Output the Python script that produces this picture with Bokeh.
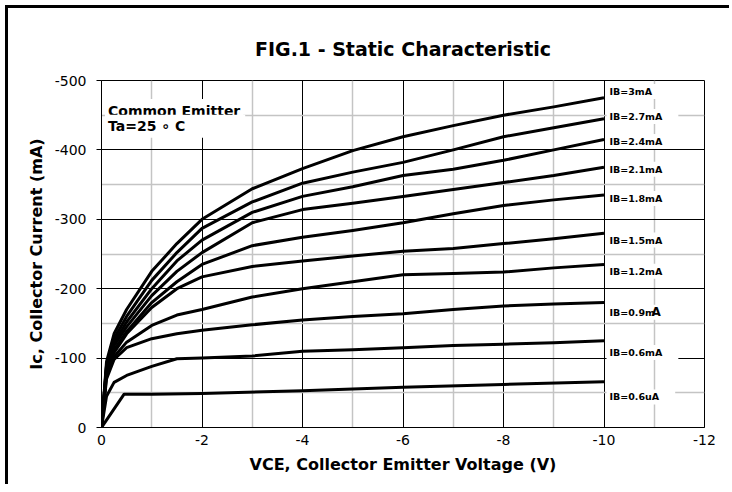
from bokeh.plotting import figure
from bokeh.models import Range1d, FixedTicker, Label, Spacer
from bokeh.layouts import column, row
from bokeh.embed import file_html
from bokeh.resources import INLINE

# ---- data ----
vce = [0, -0.1, -0.25, -0.5, -1, -1.5, -2, -3, -4, -5, -6, -7, -8, -9, -10]
ic_3_0 = [0, -95, -135, -170, -225, -265, -300, -344, -373, -399, -419, -435, -450, -462, -475]
ic_2_7 = [0, -90, -128, -160, -212, -252, -287, -325, -352, -368, -382, -400, -419, -432, -445]
ic_2_4 = [0, -88, -122, -152, -200, -240, -270, -310, -333, -347, -363, -372, -385, -400, -415]
ic_2_1 = [0, -85, -118, -145, -190, -225, -252, -295, -314, -323, -333, -343, -353, -363, -375]
ic_1_8 = [0, -82, -112, -138, -180, -210, -235, -262, -274, -284, -295, -308, -320, -328, -335]
ic_1_5 = [0, -80, -108, -135, -173, -200, -217, -232, -240, -247, -254, -258, -265, -272, -280]
ic_1_2 = [0, -75, -102, -123, -147, -162, -170, -188, -200, -210, -220, -222, -224, -230, -235]
ic_0_9 = [0, -70, -98, -115, -128, -135, -140, -148, -155, -160, -164, -170, -175, -178, -180]
ic_0_6 = [0, -45, -65, -75, -88, -99, -100, -103, -110, -112, -115, -118, -120, -122, -125]
vce_low = [0, -0.45, -1, -2, -4, -6, -8, -10]
ic_0_6u = [0, -48, -48, -49, -53, -58, -62, -66]

series_labels = ["IB=3mA", "IB=2.7mA", "IB=2.4mA", "IB=2.1mA", "IB=1.8mA",
                 "IB=1.5mA", "IB=1.2mA", "IB=0.9m", "IB=0.6mA", "IB=0.6uA"]
label_y = [-484, -448, -412, -372, -330, -270, -225, -166, -108, -44]

x_ticks = [0, -2, -4, -6, -8, -10, -12]
x_minor = [-1, -3, -5, -7, -9, -11]
y_ticks = [0, -100, -200, -300, -400, -500]
y_minor = [-50, -150, -250, -350, -450]

FONT = "DejaVu Sans"

p = figure(width=716, height=470, output_backend="svg", toolbar_location=None,
           x_range=Range1d(0, -12), y_range=Range1d(0, -500),
           min_border_left=93, min_border_right=20, min_border_top=72, min_border_bottom=51)
p.background_fill_color = "white"
p.border_fill_color = "white"
p.outline_line_color = "black"
p.outline_line_width = 1

p.title.text = "FIG.1 - Static Characteristic"
p.title.align = "center"
p.title.text_font = FONT
p.title.text_font_size = "19px"
p.title.text_font_style = "bold"
p.title.text_color = "black"
p.title.standoff = 42

# axes
p.xaxis.ticker = FixedTicker(ticks=x_ticks)
p.yaxis.ticker = FixedTicker(ticks=y_ticks)
p.xaxis.major_label_overrides = {t: ("%d" % t) for t in x_ticks}
p.yaxis.major_label_overrides = {t: ("%d" % t) for t in y_ticks}
for ax in p.axis:
    ax.axis_line_color = "black"
    ax.major_label_text_font = FONT
    ax.major_label_text_font_size = "14px"
    ax.major_label_text_color = "black"
    ax.minor_tick_line_color = None
    ax.major_tick_in = 0
p.xaxis.major_tick_out = 0
p.xaxis.major_label_standoff = 7
p.yaxis.major_tick_out = 5
p.yaxis.major_tick_line_color = "black"
p.yaxis.major_label_standoff = 10
p.yaxis.axis_label = "Ic, Collector Current (mA)"
p.xaxis.axis_label = "VCE, Collector Emitter Voltage (V)"
for ax in p.axis:
    ax.axis_label_text_font = FONT
    ax.axis_label_text_font_size = "16px"
    ax.axis_label_text_font_style = "bold"
    ax.axis_label_text_color = "black"
p.yaxis.axis_label_standoff = 6
p.xaxis.axis_label_standoff = 7

# grids
p.xgrid.ticker = FixedTicker(ticks=[-2, -4, -6, -8, -10], minor_ticks=x_minor)
p.ygrid.ticker = FixedTicker(ticks=[-100, -200, -300, -400], minor_ticks=y_minor)
for g in (p.xgrid, p.ygrid):
    g.grid_line_color = "black"
    g.grid_line_width = 1
    g.minor_grid_line_color = "#c4c4c4"
    g.minor_grid_line_width = 1.5

# curves
for ys in [ic_3_0, ic_2_7, ic_2_4, ic_2_1, ic_1_8, ic_1_5, ic_1_2, ic_0_9, ic_0_6]:
    p.line(vce, ys, line_color="black", line_width=3, line_join="round")
p.line(vce_low, ic_0_6u, line_color="black", line_width=3, line_join="round")

# series labels with white boxes
for txt, yv in zip(series_labels, label_y):
    p.add_layout(Label(x=-10.05, y=yv, text=txt, text_font=FONT, text_font_size="9.5px",
                       text_font_style="bold", text_color="black",
                       text_baseline="middle", text_align="left",
                       background_fill_color="white", background_fill_alpha=1.0,
                       padding=dict(left=3, right=16, top=2, bottom=2)))
p.add_layout(Label(x=-10.05, y=-166, x_offset=45, text="A", text_font=FONT,
                   text_font_size="12px", text_font_style="bold", text_color="black",
                   text_baseline="middle", text_align="left"))

# annotation box
p.add_layout(Label(x=-0.07, y=-456, text="Common Emitter", text_font=FONT,
                   text_font_size="14px", text_font_style="bold", text_color="black",
                   text_baseline="middle",
                   background_fill_color="white", background_fill_alpha=1.0,
                   padding=dict(left=3, right=3, top=4, bottom=4)))
p.add_layout(Label(x=-0.07, y=-434, text="Ta=25 \u2218 C", text_font=FONT,
                   text_font_size="14px", text_font_style="bold", text_color="black",
                   text_baseline="middle",
                   background_fill_color="white", background_fill_alpha=1.0,
                   padding=dict(left=3, right=60, top=3, bottom=4)))

# outer frame: left and top edges
top_bar = Spacer(width=724, height=3, styles={"background-color": "black"})
left_bar = Spacer(width=3, height=476, styles={"background-color": "black"})
layout = column(Spacer(height=5, width=729),
                row(Spacer(width=5, height=3), top_bar),
                row(Spacer(width=5, height=470), left_bar, p))

open("out.html", "w").write(file_html(layout, INLINE))
